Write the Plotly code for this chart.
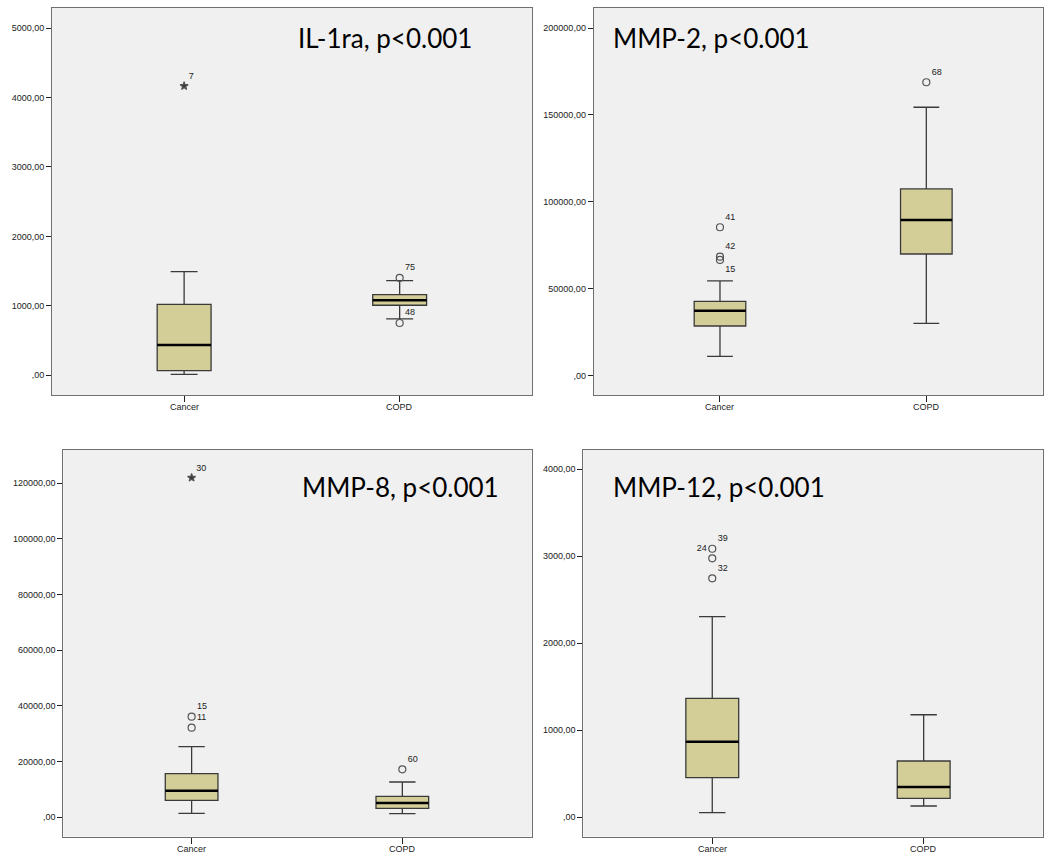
import plotly.graph_objects as go

groups = ["Cancer", "COPD"]
group_pos = [0, 1]

# ---- IL-1ra ----
il1ra_lower = [14, 811]
il1ra_q1 = [66, 1008]
il1ra_median = [436, 1080]
il1ra_q3 = [1022, 1160]
il1ra_upper = [1491, 1362]
il1ra_out_group = [0, 1, 1]
il1ra_out_value = [4165, 1401, 753]
il1ra_out_label = ["7", "75", "48"]
il1ra_out_extreme = [True, False, False]
il1ra_out_textpos = ["top right", "top right", "top right"]

# ---- MMP-2 ----
mmp2_lower = [11160, 30150]
mmp2_q1 = [28600, 70000]
mmp2_median = [37400, 89580]
mmp2_q3 = [42800, 107420]
mmp2_upper = [54500, 154430]
mmp2_out_group = [0, 0, 0, 1]
mmp2_out_value = [85380, 68470, 66570, 168800]
mmp2_out_label = ["41", "42", "15", "68"]
mmp2_out_extreme = [False, False, False, False]
mmp2_out_textpos = ["top right", "top right", "bottom right", "top right"]

# ---- MMP-8 ----
mmp8_lower = [1440, 1290]
mmp8_q1 = [6110, 3230]
mmp8_median = [9560, 5140]
mmp8_q3 = [15660, 7540]
mmp8_upper = [25360, 12680]
mmp8_out_group = [0, 0, 0, 1]
mmp8_out_value = [122000, 36140, 32190, 17240]
mmp8_out_label = ["30", "15", "11", "60"]
mmp8_out_extreme = [True, False, False, False]
mmp8_out_textpos = ["top right", "top right", "top right", "top right"]

# ---- MMP-12 ----
mmp12_lower = [53, 130]
mmp12_q1 = [455, 218]
mmp12_median = [869, 348]
mmp12_q3 = [1368, 647]
mmp12_upper = [2306, 1179]
mmp12_out_group = [0, 0, 0]
mmp12_out_value = [3087, 2977, 2747]
mmp12_out_label = ["39", "24", "32"]
mmp12_out_extreme = [False, False, False]
mmp12_out_textpos = ["top right", "top left", "top right"]

titles = ["IL-1ra, p<0.001", "MMP-2, p<0.001", "MMP-8, p<0.001", "MMP-12, p<0.001"]
tick_values = [
    [0, 1000, 2000, 3000, 4000, 5000],
    [0, 50000, 100000, 150000, 200000],
    [0, 20000, 40000, 60000, 80000, 100000, 120000],
    [0, 1000, 2000, 3000, 4000],
]

panels = [
    dict(lower=il1ra_lower, q1=il1ra_q1, med=il1ra_median, q3=il1ra_q3, upper=il1ra_upper,
         og=il1ra_out_group, ov=il1ra_out_value, ol=il1ra_out_label, oe=il1ra_out_extreme, otp=il1ra_out_textpos),
    dict(lower=mmp2_lower, q1=mmp2_q1, med=mmp2_median, q3=mmp2_q3, upper=mmp2_upper,
         og=mmp2_out_group, ov=mmp2_out_value, ol=mmp2_out_label, oe=mmp2_out_extreme, otp=mmp2_out_textpos),
    dict(lower=mmp8_lower, q1=mmp8_q1, med=mmp8_median, q3=mmp8_q3, upper=mmp8_upper,
         og=mmp8_out_group, ov=mmp8_out_value, ol=mmp8_out_label, oe=mmp8_out_extreme, otp=mmp8_out_textpos),
    dict(lower=mmp12_lower, q1=mmp12_q1, med=mmp12_median, q3=mmp12_q3, upper=mmp12_upper,
         og=mmp12_out_group, ov=mmp12_out_value, ol=mmp12_out_label, oe=mmp12_out_extreme, otp=mmp12_out_textpos),
]

# layout geometry (pixels -> fractions)
W, H = 1047, 858
px_boxes = [  # left, right, top, bottom
    (52, 532, 8, 395),
    (593.7, 1042.7, 8, 395),
    (63.3, 531.7, 450, 836.7),
    (583.3, 1042.7, 450, 836.7),
]
x_ranges = [[-0.613, 1.614], [-0.612, 1.564], [-0.609, 1.614], [-0.61, 1.563]]
y_ranges = [[-284, 5288], [-11100, 211510], [-6970, 131960], [-223, 4222]]
title_pos = [(0.694, 0.922), (0.263, 0.922), (0.719, 0.904), (0.296, 0.904)]

BOX_W = 0.25
FILL = "#D3CE97"
EDGE = "#3a3a3a"
FRAME = "#707070"
SMALL_FONT = dict(family="Liberation Sans, Arial, sans-serif", size=9, color="#222222")

fig = go.Figure()
layout = dict(
    width=W, height=H, margin=dict(l=0, r=0, t=0, b=0),
    paper_bgcolor="white", plot_bgcolor="#F0F0F0", showlegend=False,
    font=SMALL_FONT, hovermode=False,
)
annotations = []

for i, p in enumerate(panels):
    n = "" if i == 0 else str(i + 1)
    xa, ya = "x" + n, "y" + n
    # boxes
    fig.add_trace(go.Box(
        x=group_pos, q1=p["q1"], median=p["med"], q3=p["q3"],
        lowerfence=p["lower"], upperfence=p["upper"],
        width=BOX_W, whiskerwidth=0.5, fillcolor=FILL,
        line=dict(color=EDGE, width=1.3), boxpoints=False,
        xaxis=xa, yaxis=ya, hoverinfo="skip",
    ))
    # thick median lines
    for g, m in zip(group_pos, p["med"]):
        fig.add_trace(go.Scatter(
            x=[g - BOX_W / 2, g + BOX_W / 2], y=[m, m], mode="lines",
            line=dict(color="black", width=2.6), xaxis=xa, yaxis=ya, hoverinfo="skip",
        ))
    # outliers
    for g, v, lab, ext, tp in zip(p["og"], p["ov"], p["ol"], p["oe"], p["otp"]):
        fig.add_trace(go.Scatter(
            x=[g], y=[v], mode="markers+text", text=[lab], textposition=tp,
            textfont=SMALL_FONT,
            marker=dict(symbol="star" if ext else "circle-open", size=6 if ext else 7,
                        color="#333333" if ext else "#555555", line=dict(width=1.2, color="#555555")),
            xaxis=xa, yaxis=ya, hoverinfo="skip",
        ))
    l, r, t, b = px_boxes[i]
    tv = tick_values[i]
    tt = [("" if v == 0 else str(v)) + ",00" for v in tv]
    layout["xaxis" + n] = dict(
        domain=[l / W, r / W], range=x_ranges[i], anchor=ya,
        tickmode="array", tickvals=group_pos, showticklabels=False,
        ticks="outside", ticklen=6, tickcolor="#222222", tickwidth=1,
        showline=True, linecolor=FRAME, linewidth=1, mirror=True,
        showgrid=False, zeroline=False, fixedrange=True,
    )
    layout["yaxis" + n] = dict(
        domain=[1 - b / H, 1 - t / H], range=y_ranges[i], anchor=xa,
        tickmode="array", tickvals=tv, ticktext=tt,
        ticks="outside", ticklen=5, tickcolor="#222222", tickwidth=1,
        showline=True, linecolor=FRAME, linewidth=1, mirror=True,
        showgrid=False, zeroline=False, fixedrange=True,
    )
    # category labels
    for g, name in zip(group_pos, groups):
        annotations.append(dict(
            text=name, xref=xa, yref=ya + " domain", x=g, y=0, yshift=-12,
            xanchor="center", yanchor="middle", showarrow=False, font=SMALL_FONT,
        ))
    tx, ty = title_pos[i]
    annotations.append(dict(
        text=titles[i], xref=xa + " domain", yref=ya + " domain", x=tx, y=ty,
        xanchor="center", yanchor="middle", showarrow=False,
        font=dict(family="Lato, Open Sans, sans-serif", size=26, color="black"),
    ))

layout["annotations"] = annotations
fig.update_layout(**layout)
fig.write_html("out.html", config={"displayModeBar": False, "staticPlot": True},
               post_script="document.body.style.margin='0';")
